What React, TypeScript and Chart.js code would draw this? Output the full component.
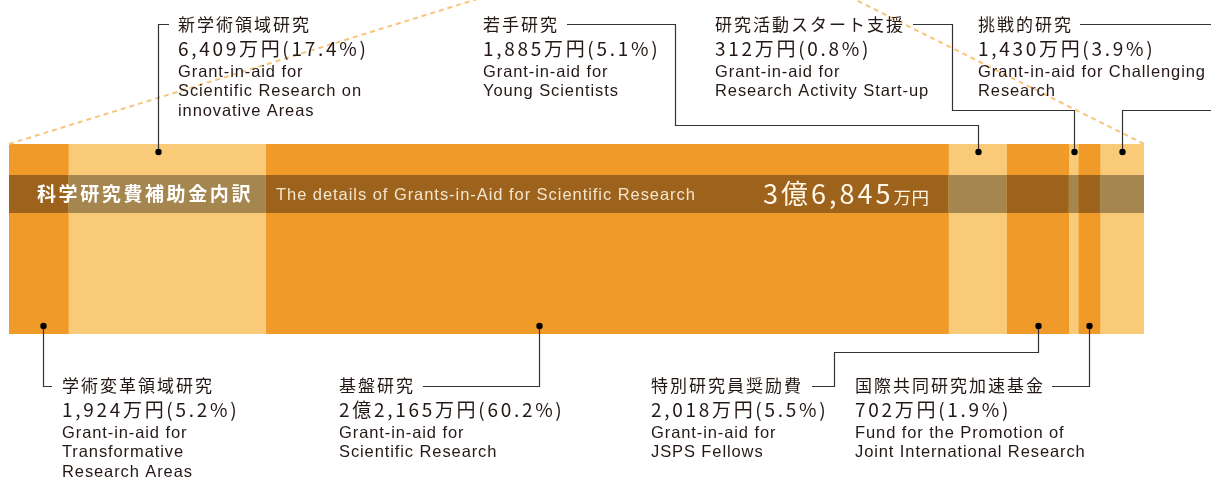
import { useEffect, useRef } from 'react';
import { Chart, registerables } from 'chart.js';

Chart.register(...registerables);

// ---- Data ----
const categories = [
  '学術変革領域研究',
  '新学術領域研究',
  '基盤研究',
  '若手研究',
  '特別研究員奨励費',
  '研究活動スタート支援',
  '国際共同研究加速基金',
  '挑戦的研究',
];
const englishNames = [
  'Grant-in-aid for\nTransformative\nResearch Areas',
  'Grant-in-aid for\nScientific Research on\ninnovative Areas',
  'Grant-in-aid for\nScientific Research',
  'Grant-in-aid for\nYoung Scientists',
  'Grant-in-aid for\nJSPS Fellows',
  'Grant-in-aid for\nResearch Activity Start-up',
  'Fund for the Promotion of\nJoint International Research',
  'Grant-in-aid for Challenging\nResearch',
];
// amounts in 万円
const values = [1924, 6409, 22165, 1885, 2018, 312, 702, 1430];
const amountLabels = [
  '1,924万円(5.2%)',
  '6,409万円(17.4%)',
  '2億2,165万円(60.2%)',
  '1,885万円(5.1%)',
  '2,018万円(5.5%)',
  '312万円(0.8%)',
  '702万円(1.9%)',
  '1,430万円(3.9%)',
];
const bandTitle = '科学研究費補助金内訳';
const bandSubtitle = 'The details of Grants-in-Aid for Scientific Research';
const totalNumber = '3億6,845';
const totalUnit = '万円';

// ---- Styles ----
const DARK = '#F09A2A';
const LIGHT = '#F9CB79';
const BAND_DARK = '#9D631C';
const BAND_LIGHT = '#A6864F';
const DASH = '#F8C57E';
const INK = '#231815';
const LINE = '#333333';
const JA = '"Noto Sans CJK JP", "Noto Sans", sans-serif';
const EN = '"Liberation Sans", Arial, sans-serif';

const W = 1211;
const H = 481;
const BAR_LEFT = 9;
const BAR_RIGHT = 1144;
const BAR_TOP = 144;
const BAR_BOTTOM = 334;
const BAND_TOP = 175;
const BAND_BOTTOM = 213;

function drawText(
  ctx: CanvasRenderingContext2D,
  s: string,
  x: number,
  y: number,
  font: string,
  color: string,
  ls: number,
): number {
  ctx.save();
  ctx.font = font;
  ctx.fillStyle = color;
  (ctx as any).letterSpacing = ls + 'px';
  ctx.textBaseline = 'middle';
  ctx.textAlign = 'left';
  ctx.fillText(s, x, y);
  const w = ctx.measureText(s).width - ls;
  ctx.restore();
  return w;
}

function polyline(ctx: CanvasRenderingContext2D, pts: [number, number][]) {
  ctx.save();
  ctx.strokeStyle = LINE;
  ctx.lineWidth = 1.2;
  ctx.beginPath();
  pts.forEach(([x, y], i) => (i === 0 ? ctx.moveTo(x, y) : ctx.lineTo(x, y)));
  ctx.stroke();
  ctx.restore();
}

function dot(ctx: CanvasRenderingContext2D, x: number, y: number) {
  ctx.save();
  ctx.fillStyle = '#000';
  ctx.beginPath();
  ctx.arc(x, y, 3.2, 0, Math.PI * 2);
  ctx.fill();
  ctx.restore();
}

type Ann = {
  idx: number;
  side: 'top' | 'bottom';
  tx: number;
  frac: number;
  route: (dx: number, dy: number, titleEnd: number) => [number, number][][];
};

const TOP_TITLE_Y = 25;
const BOTTOM_TITLE_Y = 386;

const annotations: Ann[] = [
  { idx: 1, side: 'top', tx: 178, frac: 0.457,
    route: (dx, dy) => [[[dx, dy], [dx, 24.5], [169, 24.5]]] },
  { idx: 3, side: 'top', tx: 483, frac: 0.5,
    route: (dx, dy, te) => [[[te + 10, 24.5], [675.5, 24.5], [675.5, 125.5], [dx, 125.5], [dx, dy]]] },
  { idx: 5, side: 'top', tx: 715, frac: 0.5,
    route: (dx, dy, te) => [[[te + 10, 24.5], [952.5, 24.5], [952.5, 110.5], [dx, 110.5], [dx, dy]]] },
  { idx: 7, side: 'top', tx: 978, frac: 0.5,
    route: (dx, dy, te) => [[[te + 9, 24.5], [W + 2, 24.5]], [[W + 2, 110.5], [dx, 110.5], [dx, dy]]] },
  { idx: 0, side: 'bottom', tx: 62, frac: 0.57,
    route: (dx, dy) => [[[dx, dy], [dx, 386.5], [52, 386.5]]] },
  { idx: 2, side: 'bottom', tx: 339, frac: 0.401,
    route: (dx, dy, te) => [[[te + 10, 386.5], [dx, 386.5], [dx, dy]]] },
  { idx: 4, side: 'bottom', tx: 651, frac: 0.5,
    route: (dx, dy, te) => [[[te + 11, 386.5], [834.5, 386.5], [834.5, 352.5], [dx, 352.5], [dx, dy]]] },
  { idx: 6, side: 'bottom', tx: 855, frac: 0.5,
    route: (dx, dy, te) => [[[te + 9, 386.5], [dx, 386.5], [dx, dy]]] },
];

const overlayPlugin = {
  id: 'overlay',
  afterDatasetsDraw(chart: any) {
    const ctx: CanvasRenderingContext2D = chart.ctx;
    const segs: { l: number; r: number }[] = chart.data.datasets.map((_: any, i: number) => {
      const el = chart.getDatasetMeta(i).data[0];
      return { l: Math.min(el.base, el.x), r: Math.max(el.base, el.x) };
    });
    const area = chart.chartArea;

    // dark band
    segs.forEach((s, i) => {
      ctx.fillStyle = i % 2 === 0 ? BAND_DARK : BAND_LIGHT;
      ctx.fillRect(s.l, BAND_TOP, s.r - s.l, BAND_BOTTOM - BAND_TOP);
    });
    const by = (BAND_TOP + BAND_BOTTOM) / 2;
    drawText(ctx, bandTitle, 37, by, `bold 19px ${JA}`, '#FFFFFF', 2.6);
    drawText(ctx, bandSubtitle, 276, by + 1, `16.5px ${EN}`, '#F3E6D0', 0.95);
    const nw = drawText(ctx, totalNumber, 763, by, `27px ${JA}`, '#FFF6E6', 3);
    drawText(ctx, totalUnit, 763 + nw + 3, by + 3, `17.5px ${JA}`, '#FFF6E6', 0.5);

    // dashed guide lines
    ctx.save();
    ctx.strokeStyle = DASH;
    ctx.lineWidth = 2;
    ctx.setLineDash([5, 4]);
    ctx.beginPath();
    ctx.moveTo(area.left, area.top);
    ctx.lineTo(area.left + (area.top + 5) / 0.3095, -5);
    ctx.moveTo(area.right, area.top);
    ctx.lineTo(area.right - (area.top + 5) / 0.5, -5);
    ctx.stroke();
    ctx.restore();

    // annotations
    annotations.forEach((a) => {
      const s = segs[a.idx];
      const dx = Math.round(s.l + a.frac * (s.r - s.l)) + 0.5;
      const dy = a.side === 'top' ? area.top + 8 : area.bottom - 8;
      const ty = a.side === 'top' ? TOP_TITLE_Y : BOTTOM_TITLE_Y;
      const tw = drawText(ctx, categories[a.idx], a.tx, ty, `17px ${JA}`, INK, 2);
      drawText(ctx, amountLabels[a.idx], a.tx, ty + 24, `19px ${JA}`, INK, 2.7);
      englishNames[a.idx].split('\n').forEach((line, k) => {
        drawText(ctx, line, a.tx, ty + 47 + k * 19.7, `16.5px ${EN}`, INK, 0.9);
      });
      a.route(dx, dy, a.tx + tw).forEach((pts) => polyline(ctx, pts));
      dot(ctx, dx, dy);
    });
  },
};

export default function App() {
  const ref = useRef<HTMLCanvasElement>(null);
  useEffect(() => {
    if (!ref.current) return;
    const total = values.reduce((a, b) => a + b, 0);
    const chart = new Chart(ref.current, {
      type: 'bar',
      data: {
        labels: ['科研費'],
        datasets: values.map((v, i) => ({
          label: categories[i],
          data: [v],
          backgroundColor: i % 2 === 0 ? DARK : LIGHT,
          borderWidth: 0,
          barPercentage: 1,
          categoryPercentage: 1,
        })),
      },
      options: {
        indexAxis: 'y',
        responsive: false,
        animation: false,
        layout: {
          padding: { left: BAR_LEFT, right: W - BAR_RIGHT, top: BAR_TOP, bottom: H - BAR_BOTTOM },
        },
        scales: {
          x: { stacked: true, min: 0, max: total, display: false },
          y: { stacked: true, display: false },
        },
        plugins: { legend: { display: false }, tooltip: { enabled: false } },
      },
      plugins: [overlayPlugin],
    });
    return () => chart.destroy();
  }, []);
  return (
    <div style={{ position: 'absolute', left: 0, top: 0, width: W, height: H, background: '#fff' }}>
      <canvas ref={ref} width={W} height={H} style={{ display: 'block' }} />
    </div>
  );
}
